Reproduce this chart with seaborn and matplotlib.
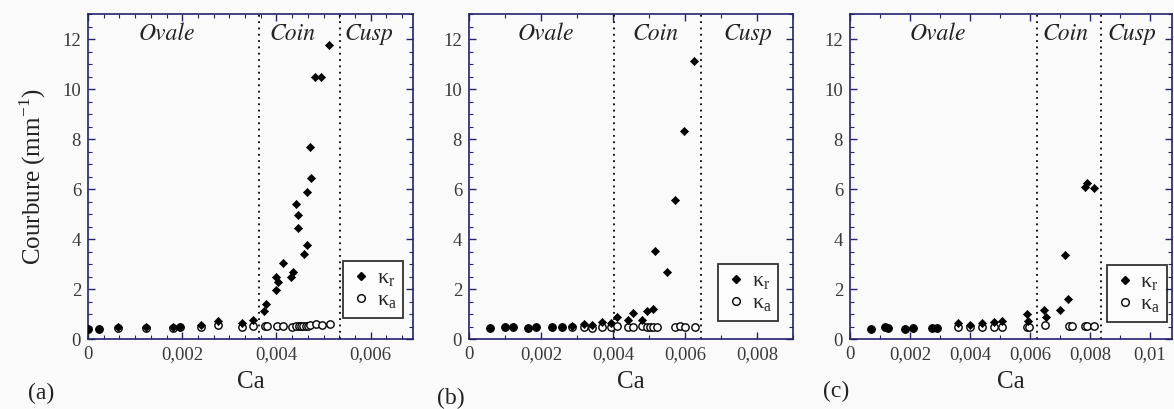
"""
Courbure vs Ca for three drop series (a), (b), (c).
"""

import numpy as np
import pandas as pd
import matplotlib
matplotlib.use("Agg")
import matplotlib.pyplot as plt
import seaborn as sns
from matplotlib import font_manager
from matplotlib.ticker import MultipleLocator, AutoMinorLocator, FuncFormatter
from matplotlib.lines import Line2D

# ---- data ----
# panel (a)
ca_a_r = [0.0, 0.00024, 0.00064, 0.00123, 0.0018, 0.00196, 0.0024, 0.00277, 0.00328, 0.0035,
          0.00374, 0.00378, 0.0040, 0.0040, 0.00404, 0.00413, 0.00431, 0.00436, 0.00441, 0.00446,
          0.00445, 0.00459, 0.00466, 0.00464, 0.00471, 0.00474, 0.00481, 0.00495, 0.00512]
kr_a = [0.40, 0.41, 0.47, 0.47, 0.47, 0.49, 0.58, 0.72, 0.64, 0.76,
        1.13, 1.42, 1.98, 2.48, 2.28, 3.06, 2.48, 2.68, 5.41, 4.97,
        4.44, 3.42, 3.75, 5.87, 7.67, 6.45, 10.49, 10.49, 11.76]
ca_a_a = [0.0, 0.00024, 0.00064, 0.00123, 0.0018, 0.00196, 0.0024, 0.00277, 0.00328, 0.0035,
          0.00376, 0.00379, 0.00401, 0.00413, 0.00434, 0.00441, 0.00447, 0.00452, 0.00456,
          0.00462, 0.00467, 0.00472, 0.00483, 0.00497, 0.00513]
ka_a = [0.40, 0.41, 0.45, 0.45, 0.46, 0.47, 0.50, 0.55, 0.48, 0.52,
        0.53, 0.53, 0.52, 0.52, 0.50, 0.52, 0.52, 0.52, 0.53,
        0.53, 0.53, 0.55, 0.60, 0.57, 0.60]

# panel (b)
ca_b_r = [0.00058, 0.001, 0.00123, 0.00165, 0.00185, 0.00231, 0.00259, 0.00287, 0.0032, 0.00341,
          0.00369, 0.00394, 0.0041, 0.00443, 0.00456, 0.0048, 0.00495, 0.00512, 0.00517, 0.00549,
          0.00572, 0.00597, 0.00625]
kr_b = [0.45, 0.49, 0.49, 0.45, 0.49, 0.49, 0.49, 0.53, 0.62, 0.57,
        0.69, 0.65, 0.90, 0.77, 1.03, 0.77, 1.14, 1.21, 3.51, 2.68,
        5.57, 8.33, 11.12]
ca_b_a = [0.00058, 0.001, 0.00123, 0.00165, 0.00185, 0.00231, 0.00259, 0.00287, 0.0032, 0.00341,
          0.00369, 0.00394, 0.0041, 0.00443, 0.00456, 0.0048, 0.00495, 0.00503, 0.00512, 0.00521,
          0.00572, 0.00586, 0.006, 0.00628]
ka_b = [0.43, 0.47, 0.47, 0.43, 0.47, 0.47, 0.47, 0.50, 0.49, 0.45,
        0.47, 0.49, 0.53, 0.49, 0.49, 0.53, 0.49, 0.49, 0.49, 0.49,
        0.49, 0.53, 0.49, 0.49]

# panel (c)
ca_c_r = [0.0007, 0.00117, 0.00128, 0.00183, 0.00211, 0.00274, 0.00289, 0.00359, 0.004, 0.00439,
          0.00481, 0.00508, 0.00589, 0.00592, 0.00648, 0.00652, 0.007, 0.00717, 0.00726, 0.00783,
          0.00791, 0.00813]
kr_c = [0.40, 0.49, 0.45, 0.40, 0.45, 0.45, 0.45, 0.65, 0.57, 0.65,
        0.69, 0.73, 1.00, 0.73, 1.16, 0.90, 1.16, 3.38, 1.62, 6.07,
        6.25, 6.05]
ca_c_a = [0.0007, 0.00117, 0.00128, 0.00183, 0.00211, 0.00274, 0.00289, 0.00359, 0.004, 0.00439,
          0.00481, 0.00508, 0.00589, 0.00598, 0.0065, 0.0073, 0.0074, 0.00783, 0.00789, 0.00813]
ka_c = [0.40, 0.47, 0.43, 0.40, 0.43, 0.43, 0.43, 0.50, 0.50, 0.49,
        0.49, 0.49, 0.49, 0.49, 0.55, 0.53, 0.53, 0.53, 0.53, 0.53]

# regime boundaries (Ovale | Coin | Cusp)
bounds_a = [0.00362, 0.00536]
bounds_b = [0.00403, 0.00644]
bounds_c = [0.00622, 0.00836]

# region label x positions
regions = ["Ovale", "Coin", "Cusp"]
label_x_a = [0.00168, 0.00435, 0.00597]
label_x_b = [0.00213, 0.00517, 0.00775]
label_x_c = [0.00292, 0.00717, 0.0094]

xmax = [0.0069, 0.009, 0.01073]
xmajor = [0.002, 0.002, 0.002]
xminor_div = [6, 2, 2]
panel_tags = ["(a)", "(b)", "(c)"]

NAVY = "#23236e"
BG = "#fafafa"

sns.set_style("ticks")
plt.rcParams['font.family'] = ['Liberation Serif', 'DejaVu Serif']
plt.rcParams['mathtext.fontset'] = 'custom'
plt.rcParams['mathtext.rm'] = 'Liberation Serif'


def italic_serif():
    # no system serif italic here, so use the italic that ships with matplotlib
    for f in font_manager.fontManager.ttflist:
        if f.name == "STIXGeneral" and f.style == "italic" and f.weight in (400, "normal"):
            return font_manager.FontProperties(fname=f.fname, size=17)
    for f in font_manager.fontManager.ttflist:
        if f.name == "DejaVu Serif" and f.style == "italic":
            return font_manager.FontProperties(fname=f.fname, size=15)
    return font_manager.FontProperties(family="serif", style="italic", size=16)


ITALIC = italic_serif()


def comma_fmt(v, pos):
    if abs(v) < 1e-12:
        return "0"
    return "{:g}".format(v).replace(".", ",")


def draw_panel(ax, ca_r, kr, ca_a, ka, bounds, label_x, xm, xmaj, xdiv, leg_anchor):
    df_a = pd.DataFrame({"Ca": ca_a, "k": ka})
    df_r = pd.DataFrame({"Ca": ca_r, "k": kr})

    sns.scatterplot(data=df_a, x="Ca", y="k", ax=ax, marker="o", s=28,
                    facecolor="white", edgecolor="black", linewidth=1.0, zorder=3)
    sns.scatterplot(data=df_r, x="Ca", y="k", ax=ax, marker="D", s=17,
                    color="black", edgecolor="black", linewidth=0.5, zorder=4)

    for b in bounds:
        ax.axvline(b, color="black", linestyle=(0, (1, 2.5)), linewidth=1.3, zorder=2)

    for name, x in zip(regions, label_x):
        ax.text(x, 12.2, name, fontproperties=ITALIC, ha="center", va="center",
                color="#222222")

    ax.set_xlim(0, xm)
    ax.set_ylim(0, 13)
    ax.xaxis.set_major_locator(MultipleLocator(xmaj))
    ax.xaxis.set_minor_locator(AutoMinorLocator(xdiv))
    ax.yaxis.set_major_locator(MultipleLocator(2))
    ax.yaxis.set_minor_locator(AutoMinorLocator(4))
    ax.xaxis.set_major_formatter(FuncFormatter(comma_fmt))

    ax.tick_params(which="both", direction="in", top=True, right=True, color=NAVY,
                   labelsize=13.5, labelcolor="#3a3a3a")
    ax.tick_params(which="major", length=5, width=1.0, pad=5)
    ax.tick_params(which="minor", length=3, width=0.8)
    for sp in ax.spines.values():
        sp.set_color(NAVY)
        sp.set_linewidth(1.2)
    ax.set_facecolor(BG)

    ax.set_xlabel("Ca", fontsize=18, color="#222222", labelpad=6)
    ax.set_ylabel("")

    handles = [
        Line2D([], [], marker="D", color="black", linestyle="none", markersize=4.5),
        Line2D([], [], marker="o", markerfacecolor="white", markeredgecolor="black",
               linestyle="none", markersize=5.5),
    ]
    leg = ax.legend(handles, [r"κ$_\mathrm{r}$", r"κ$_\mathrm{a}$"], loc="lower right",
                    bbox_to_anchor=leg_anchor, fontsize=16, frameon=True, fancybox=False,
                    handletextpad=0.2, handlelength=1.0, borderpad=0.3, labelspacing=0.05,
                    borderaxespad=0)
    leg.get_frame().set_edgecolor("black")
    leg.get_frame().set_linewidth(1.3)
    leg.get_frame().set_facecolor("white")
    leg.set_zorder(5)


def main():
    fig = plt.figure(figsize=(11.74, 4.09), dpi=100, facecolor=BG)

    lefts = [88, 469, 850]
    rights = [413, 793, 1172]
    W, H = 1174.0, 409.0
    bottom = (H - 339) / H
    height = (339 - 14) / H

    data = [
        (ca_a_r, kr_a, ca_a_a, ka_a, bounds_a, label_x_a, (0.97, 0.065)),
        (ca_b_r, kr_b, ca_b_a, ka_b, bounds_b, label_x_b, (0.955, 0.055)),
        (ca_c_r, kr_c, ca_c_a, ka_c, bounds_c, label_x_c, (0.984, 0.052)),
    ]

    axes = []
    for i, (l, r) in enumerate(zip(lefts, rights)):
        ax = fig.add_axes([l / W, bottom, (r - l) / W, height])
        ca_r, kr, ca_a, ka, bounds, lx, anchor = data[i]
        draw_panel(ax, ca_r, kr, ca_a, ka, bounds, lx, xmax[i], xmajor[i], xminor_div[i], anchor)
        axes.append(ax)

    axes[0].set_ylabel(r"Courbure (mm$^{\mathrm{-1}}$)", fontsize=18, color="#222222",
                       labelpad=10)

    tag_pos = [(41, 393), (451, 398), (836, 391)]
    for tag, (x, y) in zip(panel_tags, tag_pos):
        fig.text(x / W, 1 - y / H, tag, fontsize=17, ha="center", va="center", color="#222222")

    fig.savefig("out.png", dpi=100, facecolor=BG)


if __name__ == "__main__":
    main()
